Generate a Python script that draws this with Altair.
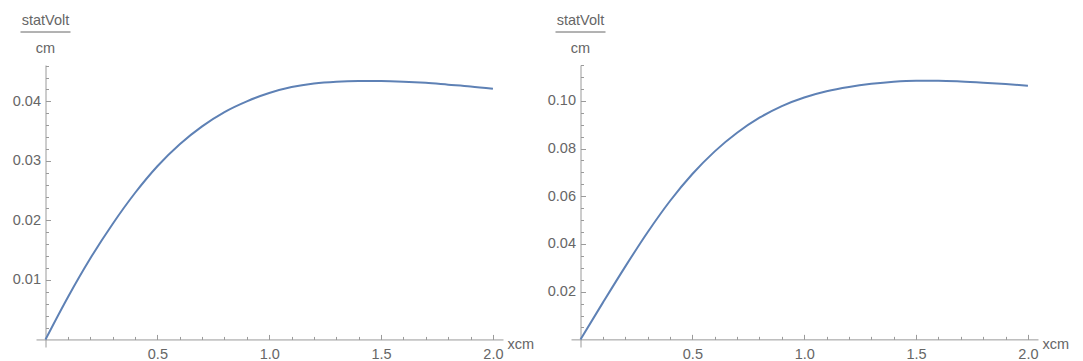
import altair as alt
import pandas as pd

# ---- data ----
x_cm = [0.0, 0.1, 0.2, 0.3, 0.4, 0.5, 0.6, 0.7, 0.8, 0.9, 1.0,
        1.1, 1.2, 1.3, 1.4, 1.5, 1.6, 1.7, 1.8, 1.9, 2.0]
field_left = [0.0, 0.0071, 0.0136, 0.0194, 0.0246, 0.0291, 0.0328, 0.0358, 0.0382, 0.0400, 0.0414,
              0.0424, 0.0430, 0.0433, 0.0434, 0.0434, 0.0433, 0.0431, 0.0428, 0.0425, 0.0421]
field_right = [0.0, 0.0154, 0.0305, 0.0449, 0.0580, 0.0693, 0.0788, 0.0866, 0.0929, 0.0978, 0.1014,
               0.1040, 0.1058, 0.1071, 0.1080, 0.1084, 0.1084, 0.1081, 0.1076, 0.1070, 0.1063]

x_major = [0.5, 1.0, 1.5, 2.0]
x_minor = [0.1, 0.2, 0.3, 0.4, 0.6, 0.7, 0.8, 0.9, 1.1, 1.2, 1.3, 1.4, 1.6, 1.7, 1.8, 1.9]
yl_major = [0.01, 0.02, 0.03, 0.04]
yl_minor = [0.002, 0.004, 0.006, 0.008, 0.012, 0.014, 0.016, 0.018, 0.022, 0.024, 0.026, 0.028,
            0.032, 0.034, 0.036, 0.038, 0.042, 0.044, 0.046]
yr_major = [0.02, 0.04, 0.06, 0.08, 0.10]
yr_minor = [0.005, 0.01, 0.015, 0.025, 0.03, 0.035, 0.045, 0.05, 0.055, 0.065, 0.07, 0.075,
            0.085, 0.09, 0.095, 0.105, 0.11, 0.115]

y_unit_top = "statVolt"
y_unit_bottom = "cm"
x_title = "xcm"

# ---- style / layout ----
W, H = 467, 282
X_DOMAIN = [-0.0425, 2.045]
YL_DOMAIN = [-0.00127, 0.0461]
YR_DOMAIN = [-0.0032, 0.115]
FONT = "Liberation Sans"
FS = 14.5
CURVE = "#5E81B5"
AXIS = "#9a9a9a"
TEXT = "#666666"


def panel(yvals, y_domain, y_major, y_minor):
    df = pd.DataFrame({"x": x_cm, "y": yvals})
    xs = alt.Scale(domain=X_DOMAIN, nice=False, zero=False)
    ys = alt.Scale(domain=y_domain, nice=False, zero=False)
    x0 = W * (0 - X_DOMAIN[0]) / (X_DOMAIN[1] - X_DOMAIN[0])
    y0 = H * (y_domain[1] - 0) / (y_domain[1] - y_domain[0])

    common = dict(grid=False, title=None, labels=False, domainColor=AXIS,
                  tickColor=AXIS, tickWidth=1, domainWidth=1)
    ax_x_major = alt.Axis(orient="top", offset=-y0, values=x_major, tickSize=5, domain=True, **common)
    ax_x_minor = alt.Axis(orient="top", offset=-y0, values=x_minor, tickSize=3, domain=False, **common)
    ax_y_major = alt.Axis(orient="right", offset=-(W - x0), values=y_major, tickSize=5, domain=True, **common)
    ax_y_minor = alt.Axis(orient="right", offset=-(W - x0), values=y_minor, tickSize=3, domain=False, **common)
    ax_x_lab = alt.Axis(orient="bottom", values=x_major, format=".1f", ticks=False, tickSize=0,
                        domain=False, grid=False, labelPadding=0, labelFont=FONT, labelFontSize=FS,
                        labelColor=TEXT, labelFlush=False, labelOverlap=False,
                        title=x_title, titleFont=FONT, titleFontSize=FS, titleFontWeight="normal",
                        titleColor=TEXT, titleX=W + 4, titleY=1, titleAlign="left",
                        titleBaseline="alphabetic", titleAngle=0)
    ax_y_lab = alt.Axis(orient="left", offset=-x0, values=y_major, format=".2f", ticks=False, tickSize=0,
                        domain=False, grid=False, labelPadding=5, labelFont=FONT, labelFontSize=FS,
                        labelColor=TEXT, labelFlush=False, labelOverlap=False, title=None)

    base = alt.Chart(df)
    labs = base.mark_line(opacity=0).encode(
        x=alt.X("x:Q", scale=xs, axis=ax_x_lab),
        y=alt.Y("y:Q", scale=ys, axis=ax_y_lab))
    minor = base.mark_line(opacity=0).encode(
        x=alt.X("x:Q", scale=xs, axis=ax_x_minor),
        y=alt.Y("y:Q", scale=ys, axis=ax_y_minor))
    line = base.mark_line(color=CURVE, strokeWidth=2, interpolate="monotone").encode(
        x=alt.X("x:Q", scale=xs, axis=ax_x_major),
        y=alt.Y("y:Q", scale=ys, axis=ax_y_major))

    t_top = alt.Chart(pd.DataFrame({"t": [y_unit_top]})).mark_text(
        font=FONT, fontSize=FS, color=TEXT, align="center", baseline="alphabetic"
    ).encode(text="t:N", x=alt.value(x0), y=alt.value(-40))
    t_bar = alt.Chart(pd.DataFrame({"t": [y_unit_top]})).mark_rule(
        color=TEXT, strokeWidth=1
    ).encode(x=alt.value(x0 - 25), x2=alt.value(x0 + 25), y=alt.value(-33))
    t_bot = alt.Chart(pd.DataFrame({"t": [y_unit_bottom]})).mark_text(
        font=FONT, fontSize=FS, color=TEXT, align="center", baseline="alphabetic"
    ).encode(text="t:N", x=alt.value(x0), y=alt.value(-12))

    return alt.layer(labs, minor, line, t_top, t_bar, t_bot).resolve_axis(
        x="independent", y="independent"
    ).properties(width=W, height=H)


left = panel(field_left, YL_DOMAIN, yl_major, yl_minor)
right = panel(field_right, YR_DOMAIN, yr_major, yr_minor)

chart = alt.hconcat(left, right, spacing=13).properties(
    padding={"left": 4, "top": 5, "right": 0, "bottom": 0}
).configure_view(stroke=None)

chart.save("out.html", embed_options={"renderer": "svg", "actions": False})
